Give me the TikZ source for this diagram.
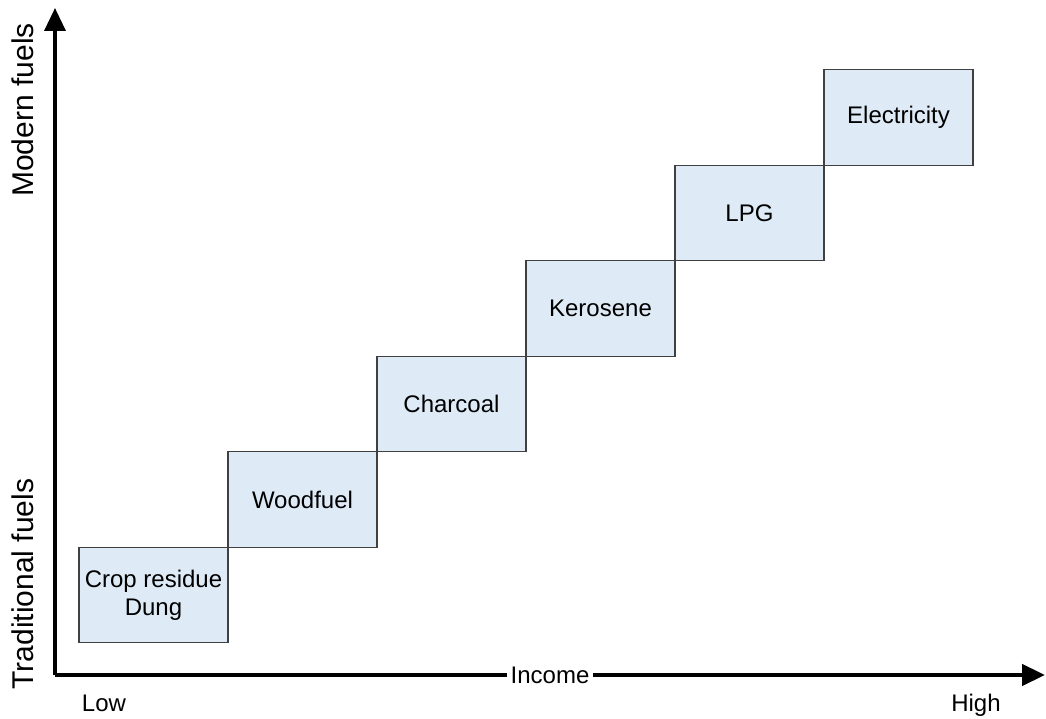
\documentclass[tikz,border=0pt]{standalone}
\usepackage{fontspec}
\setmainfont{Liberation Sans}
\usepackage{xcolor}
\usetikzlibrary{arrows.meta,positioning}
\definecolor{fuelfill}{RGB}{222,235,246}
\definecolor{fueldraw}{RGB}{64,64,64}
\tikzset{
  fuelbox/.style={draw=fueldraw,fill=fuelfill,line width=1.2pt,
    minimum width=149pt,minimum height=95.5pt,inner sep=0pt,outer sep=0pt,
    align=center,font=\fontsize{24}{28}\selectfont},
  axislabel/.style={font=\fontsize{30}{33}\selectfont,inner sep=0pt,rotate=90},
  endlabel/.style={font=\fontsize{24}{26}\selectfont,inner sep=0pt,anchor=base},
  axisarrow/.style={-{Triangle[length=23pt,width=21pt]}}
}

\begin{document}
\begin{tikzpicture}[x=1pt,y=1pt]
    \useasboundingbox (0,0) rectangle (1046,719);
    \coordinate (origin) at (55,44);
    \coordinate (ytop) at (55,711);
    \coordinate (xend) at (1045,44);

    \node[fuelbox] (crop) at (153.5,124) {Crop residue\\Dung};
    \node[fuelbox,above right=0pt and 0pt of crop] (wood) {Woodfuel};
    \node[fuelbox,above right=0pt and 0pt of wood] (charcoal) {Charcoal};
    \node[fuelbox,above right=0pt and 0pt of charcoal] (kerosene) {Kerosene};
    \node[fuelbox,above right=0pt and 0pt of kerosene] (lpg) {LPG};
    \node[fuelbox,above right=0pt and 0pt of lpg] (elec) {Electricity};

    \draw[axisarrow,line width=3.5pt] (origin) -- (ytop);
    \draw[axisarrow,line width=4.5pt] (origin) -- (xend)
        node[pos=0.5,fill=white,inner xsep=4pt,inner ysep=2pt,font=\fontsize{24}{26}\selectfont] (income) {Income};

    \node[axislabel] (modern) at (23,609) {Modern fuels};
    \node[axislabel] (traditional) at (23,135) {Traditional fuels};
    \node[endlabel] (low) at (104,7) {Low};
    \node[endlabel] (high) at (976,7) {High};
\end{tikzpicture}
\end{document}
